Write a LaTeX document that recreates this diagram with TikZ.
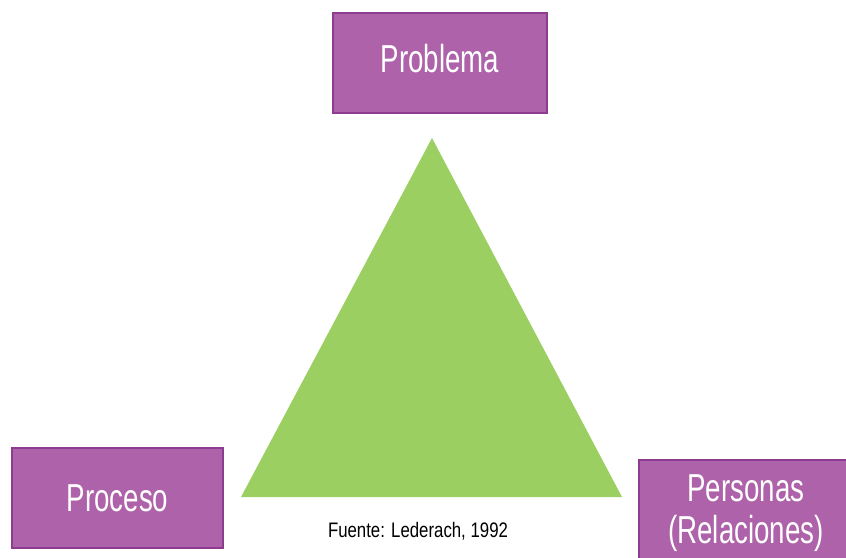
\documentclass[tikz,border=0pt]{standalone}
\usepackage{fontspec}
\newfontfamily\nsans[FakeStretch=0.71]{Liberation Sans}
\newfontfamily\csans[FakeStretch=0.8]{Liberation Sans}
\definecolor{boxfill}{HTML}{AD62A9}
\definecolor{boxline}{HTML}{8E3C91}
\definecolor{trigreen}{HTML}{9CCF62}
\tikzset{
  pbox/.style={draw=boxline, line width=1.5pt, fill=boxfill, text=white,
    minimum width=214pt, minimum height=100pt, inner sep=0pt, align=center,
    font=\nsans\fontsize{39}{41.5}\selectfont},
  caption/.style={inner sep=0pt, font=\csans\fontsize{21}{25}\selectfont}
}
\begin{document}
\begin{tikzpicture}[x=1pt,y=-1pt]
\useasboundingbox (0,0) rectangle (846,557);
\clip (0,0) rectangle (846,557);
\fill[trigreen] (432,138) coordinate (apex) -- (241,497) coordinate (bl) -- (622,497) coordinate (br) -- cycle;
\node[pbox, text depth=9pt] (problema) at (440,63) {Problema};
\node[pbox, minimum width=211pt] (proceso) at (117.5,498) {Proceso};
\node[pbox, minimum height=106pt] (personas) at (746,513) {Personas\\(Relaciones)};
\node[caption] (fuente) at (418,531) {Fuente: Lederach, 1992};
\end{tikzpicture}
\end{document}
